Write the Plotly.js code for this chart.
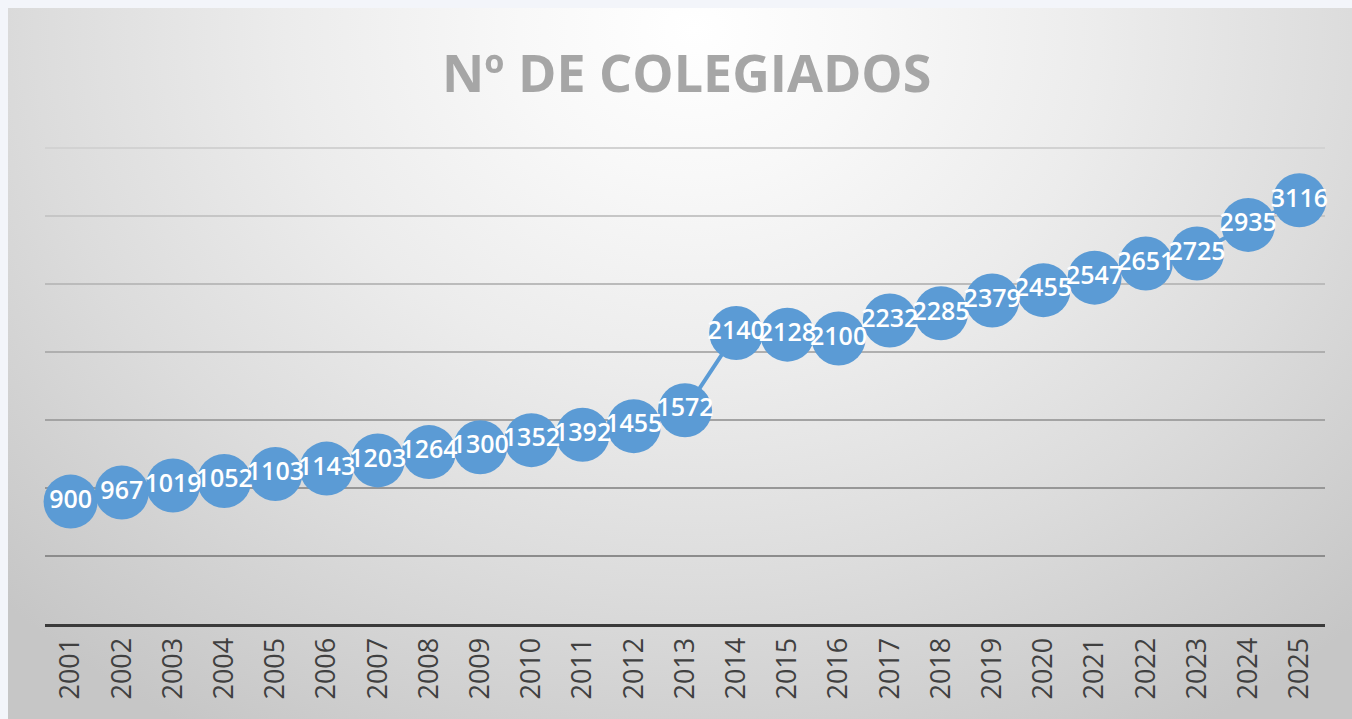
<!DOCTYPE html>
<html>
<head>
<meta charset="utf-8">
<script src="https://cdn.plot.ly/plotly-3.0.1.min.js"></script>
<style>
html,body{margin:0;padding:0;background:#f3f5fa;width:1352px;height:719px;overflow:hidden;}
#wrap{position:absolute;left:8px;top:8px;width:1344px;height:711px;
background:radial-gradient(ellipse 72% 115% at 51% 3%, #ffffff 0%, #f8f8f8 18%, #ececec 42%, #dcdcdc 68%, #c6c6c6 100%);}
#chart{width:1344px;height:711px;}
</style>
</head>
<body>
<div id="wrap"><div id="chart"></div></div>
<script>
const years = ["2001","2002","2003","2004","2005","2006","2007","2008","2009","2010","2011","2012","2013","2014","2015","2016","2017","2018","2019","2020","2021","2022","2023","2024","2025"];
const colegiados = [900,967,1019,1052,1103,1143,1203,1264,1300,1352,1392,1455,1572,2140,2128,2100,2232,2285,2379,2455,2547,2651,2725,2935,3116];
const gridValues = [500, 1000, 1500, 2000, 2500, 3000, 3500];
const chartTitle = "Nº DE COLEGIADOS";

// gridline tones: darker near the bottom, fading toward the top
const gridColors = ["#8c8c8c", "#979797", "#a3a3a3", "#afafaf", "#bbbbbb", "#c6c6c6", "#d2d2d2"];

const trace = {
  type: "scatter",
  mode: "lines+markers+text",
  x: years,
  y: colegiados,
  text: colegiados.map(String),
  textposition: "middle center",
  textfont: {family: "Open Sans, sans-serif", size: 25, color: "#ffffff", weight: 600},
  line: {color: "#5b9bd5", width: 4},
  marker: {color: "#5b9bd5", size: 54, line: {width: 0}},
  cliponaxis: false,
  hoverinfo: "x+y"
};

const shapes = gridValues.map((v, i) => ({
  type: "line", layer: "below",
  xref: "paper", x0: 0, x1: 1,
  yref: "y", y0: v, y1: v,
  line: {color: gridColors[i], width: 2}
}));

const layout = {
  width: 1344, height: 711,
  paper_bgcolor: "rgba(0,0,0,0)",
  plot_bgcolor: "rgba(0,0,0,0)",
  margin: {l: 37, r: 27, t: 136, b: 95},
  showlegend: false,
  shapes: shapes,
  title: {
    text: "<b>" + chartTitle + "</b>",
    x: 0.505, xanchor: "center",
    y: 0.908, yanchor: "middle",
    font: {family: "Open Sans, sans-serif", size: 52, color: "#a6a6a6"}
  },
  xaxis: {
    type: "category",
    range: [-0.5, 24.5],
    showgrid: false,
    showline: true, linecolor: "#3a3a3a", linewidth: 3,
    ticks: "",
    tickangle: -90,
    tickfont: {family: "Open Sans, sans-serif", size: 27, color: "#404040"},
    zeroline: false
  },
  yaxis: {
    range: [0, 3530],
    showgrid: false,
    showticklabels: false,
    zeroline: false,
    showline: false
  }
};

Plotly.newPlot("chart", [trace], layout, {displayModeBar: false, staticPlot: true});
</script>
</body>
</html>
